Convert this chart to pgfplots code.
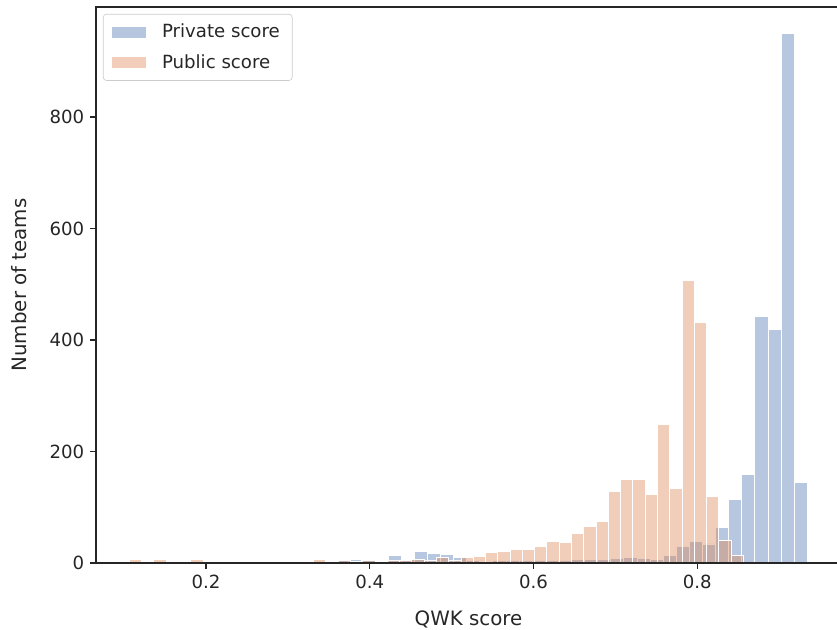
\documentclass[border=0pt]{standalone}
\usepackage{fontspec}
\setmainfont{DejaVu Sans}
\usepackage{pgfplots}
\usepackage{pgfplotstable}
\pgfplotsset{compat=1.18}
\definecolor{sbblue}{RGB}{76,114,176}
\definecolor{sborange}{RGB}{221,132,82}
\definecolor{spine}{RGB}{38,38,38}
\definecolor{legedge}{RGB}{204,204,204}

% private score: left bin edge, count (last row closes the interval)
\pgfplotstableread{
x y
0.1345 1
0.1505 0
0.1665 1
0.1825 0
0.1985 1
0.2145 1
0.2305 0
0.2465 1
0.2625 1
0.2785 1
0.2945 2
0.3105 2
0.3265 3
0.3425 3
0.3585 5
0.3745 6
0.3905 6
0.4065 5
0.4225 13
0.4385 7
0.4545 20
0.4705 17
0.4865 16
0.5025 9
0.5185 5
0.5345 3
0.5505 4
0.5665 4
0.5825 4
0.5985 4
0.6145 5
0.6305 5
0.6465 6
0.6625 7
0.6785 6
0.6945 8
0.7105 10
0.7265 8
0.7425 7
0.7585 14
0.7745 29
0.7905 38
0.8065 34
0.8225 63
0.8385 114
0.8545 158
0.8705 442
0.8865 418
0.9025 950
0.9185 144
0.9345 0
}\privatetab

% public score
\pgfplotstableread{
x y
0.1065 6
0.1215 2
0.1365 7
0.1515 3
0.1665 1
0.1815 6
0.1965 3
0.2115 3
0.2265 1
0.2415 3
0.2565 3
0.2715 1
0.2865 3
0.3015 3
0.3165 3
0.3315 6
0.3465 2
0.3615 4
0.3765 3
0.3915 4
0.4065 3
0.4215 4
0.4365 5
0.4515 7
0.4665 5
0.4815 10
0.4965 5
0.5115 9
0.5265 12
0.5415 18
0.5565 20
0.5715 25
0.5865 25
0.6015 29
0.6165 38
0.6315 36
0.6465 52
0.6615 65
0.6765 74
0.6915 128
0.7065 149
0.7215 149
0.7365 122
0.7515 249
0.7665 133
0.7815 506
0.7965 431
0.8115 120
0.8265 41
0.8415 14
0.8565 0
}\publictab

\begin{document}
\begin{tikzpicture}
\begin{axis}[
    name=ax,
    scale only axis,
    width=451.5pt, height=337pt,
    xmin=0.0657, xmax=0.9756,
    ymin=0, ymax=997.5,
    xtick={0.2,0.4,0.6,0.8},
    ytick={0,200,400,600,800},
    tick align=outside,
    major tick length=3.6pt,
    xtick pos=bottom, ytick pos=left,
    tick style={spine, line width=0.75pt},
    axis line style={spine, line width=0.75pt},
    axis on top,
    /pgf/number format/assume math mode=true,
    ticklabel style={font=\fontsize{11}{13}\selectfont, text=spine},
    xticklabel={\pgfmathprintnumber[fixed,precision=1]{\tick}},
    xlabel={QWK score},
    ylabel={Number of teams},
    label style={font=\fontsize{12}{14}\selectfont, text=spine},
    xlabel style={yshift=-6.5pt},
    ylabel style={yshift=7pt},
    legend cell align=left,
    legend image code/.code={\fill[#1,draw=none,sharp corners] (0pt,-3.4pt) rectangle (20.6pt,3.4pt);},
    legend style={at={(0,1)}, anchor=north west, xshift=4.2pt, yshift=-4.2pt,
        draw=legedge, rounded corners=2pt, fill=white, fill opacity=0.8, text opacity=1,
        font=\fontsize{11}{13}\selectfont, text=spine,
        inner xsep=5.5pt, inner ysep=4pt, row sep=4.5pt,
        /tikz/every odd column/.append style={column sep=7.5pt}},
]
\addplot[ybar interval, fill=sbblue, fill opacity=0.4, draw=white, line width=0.6pt]
    table[x=x, y=y] {\privatetab};
\addlegendentry{Private score}
\addplot[ybar interval, fill=sborange, fill opacity=0.4, draw=white, line width=0.6pt]
    table[x=x, y=y] {\publictab};
\addlegendentry{Public score}
\end{axis}
\pgfresetboundingbox
\path (ax.south west) ++(-58.2pt,-40.6pt) rectangle ++(507.3pt,381.8pt);
\end{tikzpicture}
\end{document}
